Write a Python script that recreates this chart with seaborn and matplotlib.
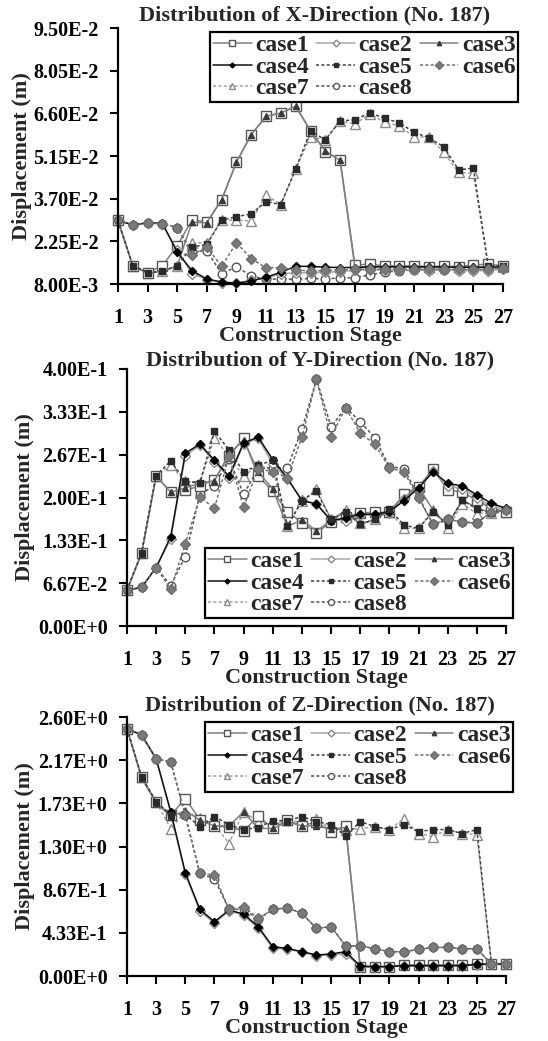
import numpy as np
import pandas as pd
import seaborn as sns
import matplotlib
matplotlib.use("Agg")
import matplotlib.pyplot as plt

# Dados (estágios 1..27)
stages = list(range(1, 28))
case_names = ["case1", "case2", "case3", "case4", "case5", "case6", "case7", "case8"]

# Direção X (m)
x_case1 = [0.0296, 0.0142, 0.0119, 0.0142, 0.0210, 0.0298, 0.0291, 0.0366, 0.0494, 0.0588, 0.0650, 0.0661, 0.0684,
           0.0601, 0.0530, 0.0502, 0.0145, 0.0147, 0.0142, 0.0142, 0.0142, 0.0139, 0.0141, 0.0139, 0.0145, 0.0147, 0.0142]
x_case2 = [0.0296, 0.0281, 0.0288, 0.0283, 0.0195, 0.0115, 0.0095, 0.0085, 0.0082, 0.0093, 0.0100, 0.0115, 0.0118,
           0.0118, 0.0120, 0.0122, 0.0127, 0.0128, 0.0128, 0.0128, 0.0128, 0.0125, 0.0128, 0.0125, 0.0125, 0.0125, 0.0130]
x_case3 = [0.0296, 0.0140, 0.0117, 0.0123, 0.0142, 0.0290, 0.0288, 0.0366, 0.0494, 0.0588, 0.0650, 0.0661, 0.0684,
           0.0600, 0.0532, 0.0500, 0.0136, 0.0140, 0.0140, 0.0140, 0.0140, 0.0138, 0.0138, 0.0137, 0.0137, 0.0137, 0.0140]
x_case4 = [0.0296, 0.0281, 0.0288, 0.0286, 0.0188, 0.0125, 0.0097, 0.0087, 0.0083, 0.0090, 0.0103, 0.0120, 0.0140,
           0.0140, 0.0137, 0.0136, 0.0136, 0.0138, 0.0138, 0.0138, 0.0138, 0.0138, 0.0138, 0.0137, 0.0137, 0.0137, 0.0138]
x_case5 = [0.0296, 0.0142, 0.0119, 0.0123, 0.0142, 0.0205, 0.0215, 0.0297, 0.0309, 0.0318, 0.0360, 0.0350, 0.0471,
           0.0600, 0.0570, 0.0634, 0.0638, 0.0662, 0.0643, 0.0628, 0.0595, 0.0577, 0.0546, 0.0468, 0.0474, 0.0142, 0.0142]
x_case6 = [0.0296, 0.0281, 0.0288, 0.0285, 0.0272, 0.0180, 0.0205, 0.0140, 0.0220, 0.0166, 0.0135, 0.0135, 0.0128,
           0.0124, 0.0126, 0.0128, 0.0130, 0.0130, 0.0130, 0.0130, 0.0130, 0.0130, 0.0130, 0.0130, 0.0130, 0.0130, 0.0136]
x_case7 = [0.0296, 0.0142, 0.0119, 0.0123, 0.0142, 0.0220, 0.0220, 0.0297, 0.0297, 0.0294, 0.0382, 0.0350, 0.0471,
           0.0580, 0.0570, 0.0634, 0.0624, 0.0658, 0.0630, 0.0617, 0.0580, 0.0580, 0.0527, 0.0459, 0.0456, 0.0142, 0.0138]
x_case8 = [0.0296, 0.0281, 0.0288, 0.0285, 0.0272, 0.0190, 0.0193, 0.0114, 0.0139, 0.0107, 0.0096, 0.0097, 0.0096,
           0.0099, 0.0097, 0.0101, 0.0101, 0.0111, 0.0120, 0.0125, 0.0128, 0.0128, 0.0128, 0.0128, 0.0128, 0.0128, 0.0135]

# Direção Y (m)
y_case1 = [0.056, 0.114, 0.234, 0.208, 0.211, 0.218, 0.228, 0.264, 0.292, 0.233, 0.210, 0.178, 0.161,
           0.145, 0.162, 0.170, 0.176, 0.177, 0.177, 0.205, 0.217, 0.244, 0.212, 0.208, 0.196, 0.183, 0.178]
y_case2 = [0.056, 0.060, 0.091, 0.136, 0.265, 0.281, 0.255, 0.231, 0.283, 0.292, 0.252, 0.229, 0.196,
           0.190, 0.165, 0.164, 0.172, 0.173, 0.176, 0.197, 0.214, 0.241, 0.218, 0.214, 0.200, 0.186, 0.181]
y_case3 = [0.056, 0.112, 0.234, 0.208, 0.215, 0.222, 0.226, 0.268, 0.290, 0.240, 0.213, 0.155, 0.165,
           0.148, 0.164, 0.178, 0.158, 0.166, 0.180, 0.200, 0.217, 0.180, 0.157, 0.196, 0.184, 0.176, 0.180]
y_case4 = [0.056, 0.060, 0.091, 0.139, 0.269, 0.283, 0.258, 0.233, 0.285, 0.294, 0.259, 0.230, 0.195,
           0.190, 0.164, 0.168, 0.174, 0.174, 0.178, 0.195, 0.215, 0.240, 0.222, 0.218, 0.204, 0.191, 0.183]
y_case5 = [0.056, 0.114, 0.234, 0.257, 0.225, 0.223, 0.303, 0.274, 0.240, 0.250, 0.258, 0.155, 0.195,
           0.210, 0.166, 0.178, 0.158, 0.166, 0.182, 0.157, 0.152, 0.178, 0.157, 0.196, 0.182, 0.176, 0.180]
y_case6 = [0.056, 0.060, 0.091, 0.057, 0.128, 0.201, 0.183, 0.264, 0.185, 0.245, 0.240, 0.231, 0.294,
           0.384, 0.294, 0.340, 0.300, 0.283, 0.246, 0.240, 0.199, 0.158, 0.166, 0.162, 0.160, 0.178, 0.180]
y_case7 = [0.056, 0.114, 0.234, 0.250, 0.225, 0.223, 0.292, 0.264, 0.233, 0.250, 0.245, 0.155, 0.195,
           0.213, 0.166, 0.180, 0.160, 0.166, 0.178, 0.152, 0.152, 0.180, 0.152, 0.190, 0.175, 0.176, 0.178]
y_case8 = [0.056, 0.060, 0.091, 0.063, 0.108, 0.205, 0.218, 0.260, 0.205, 0.245, 0.246, 0.246, 0.306,
           0.384, 0.310, 0.340, 0.318, 0.293, 0.248, 0.245, 0.201, 0.158, 0.166, 0.162, 0.160, 0.178, 0.180]

# Direção Z (m)
z_case1 = [2.483, 1.999, 1.748, 1.614, 1.781, 1.571, 1.504, 1.497, 1.457, 1.604, 1.481, 1.564, 1.507,
           1.547, 1.447, 1.507, 0.094, 0.094, 0.094, 0.110, 0.110, 0.110, 0.110, 0.110, 0.117, 0.117, 0.117]
z_case2 = [2.483, 2.420, 2.180, 1.640, 1.020, 0.650, 0.530, 0.655, 0.610, 0.480, 0.280, 0.270, 0.240,
           0.205, 0.215, 0.220, 0.095, 0.090, 0.095, 0.100, 0.100, 0.104, 0.104, 0.104, 0.115, 0.120, 0.120]
z_case3 = [2.483, 1.985, 1.738, 1.600, 1.660, 1.565, 1.507, 1.507, 1.648, 1.481, 1.481, 1.547, 1.507,
           1.507, 1.474, 1.490, 0.088, 0.094, 0.094, 0.104, 0.104, 0.104, 0.104, 0.104, 0.117, 0.117, 0.117]
z_case4 = [2.483, 2.420, 2.180, 1.650, 1.036, 0.668, 0.545, 0.662, 0.622, 0.495, 0.294, 0.277, 0.244,
           0.211, 0.221, 0.244, 0.100, 0.094, 0.094, 0.104, 0.104, 0.104, 0.104, 0.104, 0.117, 0.120, 0.120]
z_case5 = [2.483, 1.999, 1.748, 1.620, 1.620, 1.500, 1.600, 1.520, 1.470, 1.490, 1.560, 1.560, 1.600,
           1.550, 1.520, 1.404, 1.550, 1.500, 1.470, 1.520, 1.450, 1.470, 1.470, 1.430, 1.470, 0.125, 0.125]
z_case6 = [2.483, 2.420, 2.180, 2.149, 1.614, 1.029, 1.013, 0.668, 0.695, 0.578, 0.668, 0.685, 0.628,
           0.478, 0.495, 0.301, 0.304, 0.274, 0.244, 0.244, 0.267, 0.287, 0.287, 0.274, 0.274, 0.120, 0.120]
z_case7 = [2.483, 1.999, 1.748, 1.480, 1.650, 1.590, 1.520, 1.330, 1.650, 1.550, 1.520, 1.570, 1.540,
           1.580, 1.470, 1.470, 1.480, 1.500, 1.470, 1.580, 1.430, 1.400, 1.470, 1.430, 1.420, 0.125, 0.125]
z_case8 = [2.483, 2.420, 2.180, 2.149, 1.614, 1.029, 0.976, 0.668, 0.670, 0.570, 0.668, 0.685, 0.628,
           0.478, 0.495, 0.301, 0.304, 0.274, 0.244, 0.244, 0.267, 0.287, 0.287, 0.274, 0.274, 0.120, 0.120]

# Eixos
x_ticks = list(range(1, 28, 2))
x_yticks = [0.008, 0.0225, 0.037, 0.0515, 0.066, 0.0805, 0.095]
x_ylabels = ["8.00E-3", "2.25E-2", "3.70E-2", "5.15E-2", "6.60E-2", "8.05E-2", "9.50E-2"]
y_yticks = [0.0, 0.0667, 0.1333, 0.2, 0.2667, 0.3333, 0.4]
y_ylabels = ["0.00E+0", "6.67E-2", "1.33E-1", "2.00E-1", "2.67E-1", "3.33E-1", "4.00E-1"]
z_yticks = [0.0, 0.4333, 0.8667, 1.3, 1.7333, 2.1667, 2.6]
z_ylabels = ["0.00E+0", "4.33E-1", "8.67E-1", "1.30E+0", "1.73E+0", "2.17E+0", "2.60E+0"]

# estilo de cada caso: (cor da linha, marcador, cor do marcador, preenchimento, tamanho, tracejado, zorder)
estilos = {
    "case1": ("#808080", "s", "#555555", "white", 6.5, "-", 2.0),
    "case2": ("#a8a8a8", "D", "#8a8a8a", "white", 5.0, "-", 2.0),
    "case3": ("#808080", "^", "#3a3a3a", "#3a3a3a", 4.5, "-", 2.1),
    "case4": ("#101010", "D", "#000000", "#000000", 3.6, "-", 2.1),
    "case5": ("#404040", "s", "#2a2a2a", "#2a2a2a", 3.8, (0, (2, 1.5)), 2.1),
    "case6": ("#707070", "D", "#6e6e6e", "#7a7a7a", 5.2, (0, (2, 1.5)), 2.1),
    "case7": ("#a0a0a0", "^", "#8c8c8c", "white", 7.0, (0, (2, 1.5)), 1.9),
    "case8": ("#555555", "o", "#555555", "white", 6.2, (0, (2, 1.5)), 1.9),
}

sns.set_style("ticks")
plt.rcParams["font.family"] = ["Liberation Serif", "DejaVu Serif"]
plt.rcParams["font.weight"] = "bold"

fig = plt.figure(figsize=(5.48, 10.41), dpi=100)

paineis = [
    ("X", [x_case1, x_case2, x_case3, x_case4, x_case5, x_case6, x_case7, x_case8],
     x_yticks, x_ylabels, [118 / 548, 1 - 284 / 1041, 385 / 548, 256 / 1041], (210 / 548, 1 - 32 / 1041), -0.249, 13),
    ("Y", [y_case1, y_case2, y_case3, y_case4, y_case5, y_case6, y_case7, y_case8],
     y_yticks, y_ylabels, [127 / 548, 1 - 626 / 1041, 379 / 548, 257 / 1041], (205 / 548, 1 - 548 / 1041), -0.269, 9),
    ("Z", [z_case1, z_case2, z_case3, z_case4, z_case5, z_case6, z_case7, z_case8],
     z_yticks, z_ylabels, [127 / 548, 1 - 976 / 1041, 379 / 548, 259 / 1041], (205 / 548, 1 - 722 / 1041), -0.269, 12),
]

for direcao, series, yt, ylab, pos, leg_pos, ylab_x, tit_off in paineis:
    ax = fig.add_axes(pos)
    for nome, valores in zip(case_names, series):
        cor, mk, mec, mfc, ms, ls, zo = estilos[nome]
        sns.lineplot(x=stages, y=valores, ax=ax, color=cor, linestyle=ls, linewidth=1.1,
                     marker=mk, markersize=ms, markeredgecolor=mec, markerfacecolor=mfc,
                     markeredgewidth=1.0, label=nome, clip_on=False, zorder=zo)
    ax.set_xlim(1, 27)
    ax.set_ylim(yt[0], yt[-1])
    ax.set_xticks(x_ticks)
    ax.set_xticklabels([str(s) for s in x_ticks])
    ax.set_yticks(yt)
    ax.set_yticklabels(ylab)
    sns.despine(ax=ax)
    for sp in ["left", "bottom"]:
        ax.spines[sp].set_linewidth(1.6)
        ax.spines[sp].set_color("black")
    ax.tick_params(axis="x", direction="out", length=6, width=1.5, pad=11, labelsize=14.5, colors="black")
    ax.tick_params(axis="y", direction="out", length=6, width=1.5, pad=8, labelsize=14.5, colors="black")
    for t in ax.get_xticklabels() + ax.get_yticklabels():
        t.set_fontweight("bold")

    ax.set_ylabel("Displacement (m)", fontsize=16, fontweight="bold")
    ax.yaxis.set_label_coords(ylab_x, 0.5)
    ax.yaxis.label.set_va("center")
    ax.set_xlabel("Construction Stage", fontsize=16, fontweight="bold")
    ax.xaxis.set_label_coords(0.5, -52 / (pos[3] * 1041))
    ax.xaxis.label.set_va("center")
    ax.text(0.51, 1 + tit_off / (pos[3] * 1041), f"Distribution of {direcao}-Direction (No. 187)",
            transform=ax.transAxes, ha="center", va="center", fontsize=16, fontweight="bold")

    # legenda em 3 colunas, preenchida por linha
    handles, labels = ax.get_legend_handles_labels()
    ordem = [0, 3, 6, 1, 4, 7, 2, 5]
    leg = ax.legend([handles[i] for i in ordem], [labels[i] for i in ordem], ncol=3,
                    loc="upper left", bbox_to_anchor=leg_pos, bbox_transform=fig.transFigure,
                    borderaxespad=0, fancybox=False, framealpha=1, edgecolor="black",
                    prop={"size": 17, "weight": "bold"}, handlelength=1.65, handletextpad=0.15,
                    columnspacing=0.3, labelspacing=0.0, borderpad=0.12, markerscale=0.7)
    leg.get_frame().set_linewidth(1.6)

fig.savefig("out.png", dpi=100)
